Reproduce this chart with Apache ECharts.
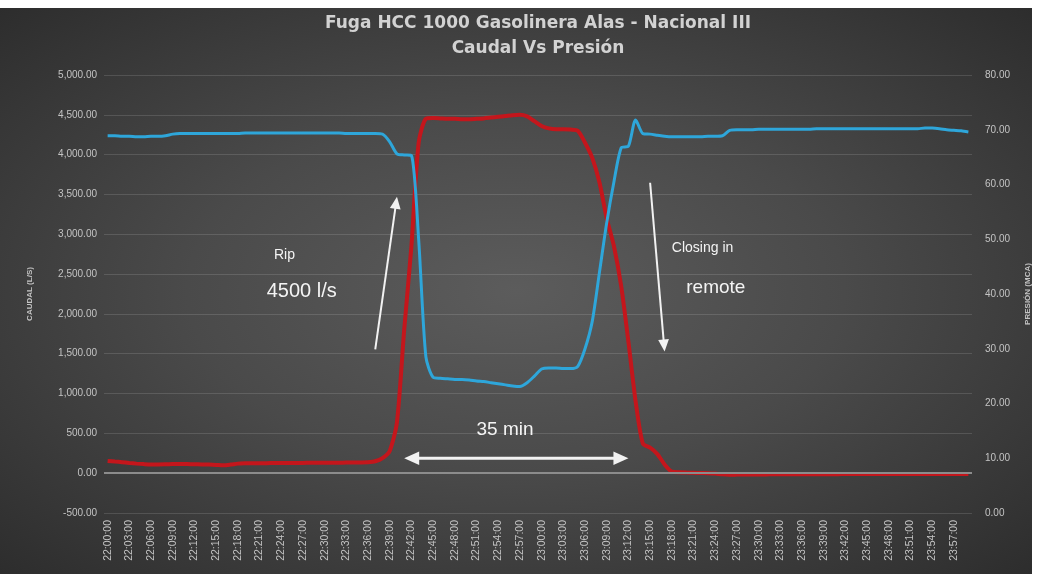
<!DOCTYPE html>
<html>
<head>
<meta charset="utf-8">
<script src="https://cdn.jsdelivr.net/npm/echarts@6/dist/echarts.min.js"></script>
<style>
  html, body { margin: 0; padding: 0; background: #ffffff; }
  #bg {
    position: absolute; left: 0; top: 8px; width: 1032px; height: 566px;
    background: radial-gradient(ellipse at 50% 50%, #5c5c5c 0%, #4a4a4a 45%, #2d2d2d 100%);
  }
  #chart { position: absolute; left: 0; top: 0; width: 1043px; height: 579px; }
</style>
</head>
<body>
<div id="bg"></div>
<div id="chart"></div>
<script>
// one reading per minute, 22:00 -> 23:59
const startMinute = 22 * 60
const pointCount = 120
const times = []
for (let i = 0; i < pointCount; i++) {
  const m = startMinute + i
  times.push(String(Math.floor(m / 60)).padStart(2, '0') + ':' + String(m % 60).padStart(2, '0') + ':00')
}

// Caudal (L/S) - red, left axis
const caudal = [
  154, 146, 138, 128, 120, 114, 110, 110, 112, 115,
  116, 114, 112, 110, 108, 104, 100, 108, 120, 124,
  125, 126, 126, 127, 127, 128, 128, 129, 130, 130,
  131, 131, 132, 133, 134, 135, 138, 150, 190, 280,
  640, 1800, 2850, 4150, 4450, 4460, 4455, 4450, 4450, 4445,
  4445, 4450, 4455, 4465, 4475, 4485, 4495, 4500, 4480, 4420,
  4360, 4330, 4320, 4320, 4315, 4300, 4150, 3960, 3650, 3200,
  2850, 2350, 1650, 900, 370, 320, 240, 110, 20, 12,
  8, 5, 2, 0, -5, -15, -20, -18, -16, -15,
  -15, -15, -14, -14, -13, -13, -12, -12, -12, -12,
  -12, -12, -11, -11, -11, -10, -10, -10, -10, -10,
  -10, -10, -10, -10, -10, -10, -10, -10, -10, -10
]

// Presión (MCA) - blue, right axis
const presion = [
  68.9, 68.9, 68.8, 68.8, 68.7, 68.7, 68.8, 68.8, 68.9, 69.2,
  69.3, 69.3, 69.3, 69.3, 69.3, 69.3, 69.3, 69.3, 69.3, 69.4,
  69.4, 69.4, 69.4, 69.4, 69.4, 69.4, 69.4, 69.4, 69.4, 69.4,
  69.4, 69.4, 69.4, 69.3, 69.3, 69.3, 69.3, 69.3, 69.2, 67.8,
  65.6, 65.4, 65.3, 50.0, 28.5, 24.8, 24.6, 24.5, 24.4, 24.4,
  24.3, 24.1, 24.0, 23.8, 23.6, 23.4, 23.2, 23.1, 23.8, 25.0,
  26.3, 26.5, 26.5, 26.4, 26.4, 26.8, 30.0, 35.0, 44.0, 53.0,
  60.5, 66.7, 67.0, 71.8, 69.3, 69.2, 69.0, 68.8, 68.7, 68.7,
  68.7, 68.7, 68.7, 68.8, 68.8, 68.9, 69.9, 70.0, 70.0, 70.0,
  70.1, 70.1, 70.1, 70.1, 70.1, 70.1, 70.1, 70.1, 70.2, 70.2,
  70.2, 70.2, 70.2, 70.2, 70.2, 70.2, 70.2, 70.2, 70.2, 70.2,
  70.2, 70.2, 70.2, 70.3, 70.3, 70.2, 70.0, 69.9, 69.8, 69.6
]

// annotations, anchored in [minute index, caudal] space
const notes = [
  { text: 'Rip', at: [22.7, 2744], size: 14 },
  { text: '4500 l/s', at: [21.7, 2281], size: 20 },
  { text: '35 min', at: [50.5, 551], size: 19 },
  { text: 'Closing in', at: [78.0, 2820], size: 14 },
  { text: 'remote', at: [79.8, 2331], size: 19 }
]
const arrows = [
  { from: [36.5, 1554], to: [39.7, 3471], both: false, width: 2, head: 12 },
  { from: [40.8, 188], to: [72.2, 188], both: true, width: 3, head: 15 },
  { from: [74.5, 3647], to: [77.0, 1529], both: false, width: 2, head: 12 }
]

const axisText = '#c4c4c4'
const fmt2 = v => Number(v).toLocaleString('en-US', { minimumFractionDigits: 2, maximumFractionDigits: 2 })

const chart = echarts.init(document.getElementById('chart'))

chart.setOption({
  backgroundColor: 'transparent',
  animation: false,
  title: {
    text: 'Fuga HCC 1000 Gasolinera Alas - Nacional III\nCaudal Vs Presión',
    left: 533,
    top: 6,
    textAlign: 'center',
    textStyle: {
      color: '#d2d2d2',
      fontFamily: 'DejaVu Sans',
      fontWeight: 'bold',
      fontSize: 17,
      lineHeight: 25
    }
  },
  grid: { left: 104, right: 71, top: 75, bottom: 66 },
  xAxis: {
    type: 'category',
    data: times,
    boundaryGap: true,
    axisLine: { show: false },
    axisTick: { show: false },
    axisLabel: {
      interval: 2,
      rotate: 90,
      color: axisText,
      fontSize: 10.5,
      fontFamily: 'Liberation Sans',
      margin: 7
    }
  },
  yAxis: [
    {
      type: 'value',
      min: -500,
      max: 5000,
      interval: 500,
      name: 'CAUDAL (L/S)',
      nameLocation: 'middle',
      nameRotate: 90,
      nameGap: 70,
      nameTextStyle: { color: axisText, fontSize: 8, fontWeight: 'bold', fontFamily: 'Liberation Sans' },
      axisLine: { show: false },
      axisTick: { show: false },
      axisLabel: { color: axisText, fontSize: 10, fontFamily: 'Liberation Sans', margin: 7, formatter: fmt2 },
      splitLine: { lineStyle: { color: 'rgba(255,255,255,0.13)', width: 1 } }
    },
    {
      type: 'value',
      position: 'right',
      min: 0,
      max: 80,
      interval: 10,
      name: 'PRESIÓN (MCA)',
      nameLocation: 'middle',
      nameRotate: 90,
      nameGap: 52,
      nameTextStyle: { color: axisText, fontSize: 8, fontWeight: 'bold', fontFamily: 'Liberation Sans' },
      axisLine: { show: false },
      axisTick: { show: false },
      axisLabel: { color: axisText, fontSize: 10, fontFamily: 'Liberation Sans', margin: 13, formatter: fmt2 },
      splitLine: { show: false }
    }
  ],
  series: [
    {
      name: 'Caudal',
      type: 'line',
      yAxisIndex: 0,
      data: caudal,
      symbol: 'none',
      smooth: 0.25,
      lineStyle: { color: '#c4161c', width: 4 },
      markLine: {
        silent: true,
        symbol: 'none',
        label: { show: false },
        lineStyle: { color: '#8c8c8c', width: 2, type: 'solid' },
        data: [{ yAxis: 0 }]
      },
      z: 3
    },
    {
      name: 'Presión',
      type: 'line',
      yAxisIndex: 1,
      data: presion,
      symbol: 'none',
      smooth: 0.25,
      lineStyle: { color: '#2ea6da', width: 3 },
      z: 4
    }
  ]
})

// annotations: convert data anchors to pixels
const toPx = p => chart.convertToPixel({ xAxisIndex: 0, yAxisIndex: 0 }, p)

function headAt(tip, back, len, halfW) {
  const dx = tip[0] - back[0], dy = tip[1] - back[1]
  const d = Math.sqrt(dx * dx + dy * dy)
  const ux = dx / d, uy = dy / d
  const bx = tip[0] - ux * len, by = tip[1] - uy * len
  return [tip, [bx - uy * halfW, by + ux * halfW], [bx + uy * halfW, by - ux * halfW]]
}

const graphics = []
arrows.forEach(a => {
  const p0 = toPx(a.from), p1 = toPx(a.to)
  const dx = p1[0] - p0[0], dy = p1[1] - p0[1]
  const d = Math.sqrt(dx * dx + dy * dy)
  const ux = dx / d, uy = dy / d
  const s = a.both ? [p0[0] + ux * a.head * 0.8, p0[1] + uy * a.head * 0.8] : p0
  const e = [p1[0] - ux * a.head * 0.8, p1[1] - uy * a.head * 0.8]
  graphics.push({
    type: 'line', silent: true,
    shape: { x1: s[0], y1: s[1], x2: e[0], y2: e[1] },
    style: { stroke: '#f2f2f2', lineWidth: a.width }
  })
  graphics.push({
    type: 'polygon', silent: true,
    shape: { points: headAt(p1, p0, a.head, a.head * 0.45) },
    style: { fill: '#f2f2f2' }
  })
  if (a.both) {
    graphics.push({
      type: 'polygon', silent: true,
      shape: { points: headAt(p0, p1, a.head, a.head * 0.45) },
      style: { fill: '#f2f2f2' }
    })
  }
})
notes.forEach(n => {
  const p = toPx(n.at)
  graphics.push({
    type: 'text', silent: true,
    x: p[0], y: p[1],
    style: {
      text: n.text,
      fill: '#f4f4f4',
      fontSize: n.size,
      fontFamily: 'Liberation Sans',
      verticalAlign: 'middle',
      align: 'left'
    }
  })
})
chart.setOption({ graphic: graphics })
</script>
</body>
</html>
